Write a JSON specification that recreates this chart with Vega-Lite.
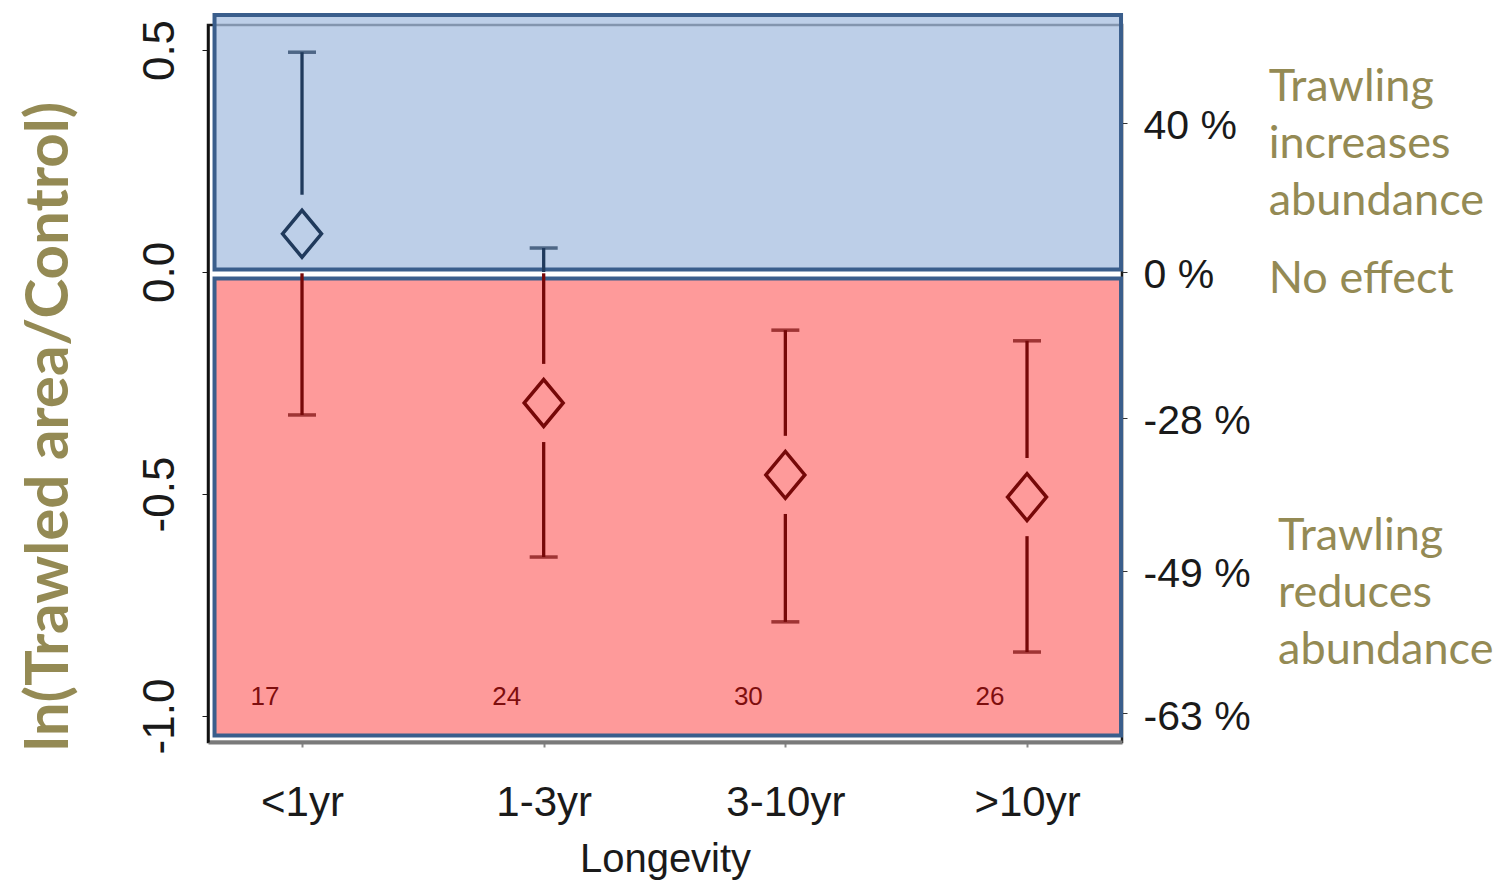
{
  "$schema": "https://vega.github.io/schema/vega-lite/v6.json",
  "width": 914,
  "height": 717,
  "autosize": {"type": "none"},
  "padding": {"left": 208, "top": 25, "right": 373, "bottom": 146},
  "background": "white",
  "view": {"stroke": "#1a1a1a", "strokeWidth": 2.5},
  "config": {"axis": {"grid": false}},
  "datasets": {
    "effects": [
      {"longevity": "<1yr", "pos": 1, "est": 0.086, "lo": -0.322, "hi": 0.495, "n": 17},
      {"longevity": "1-3yr", "pos": 2, "est": -0.295, "lo": -0.642, "hi": 0.054, "n": 24},
      {"longevity": "3-10yr", "pos": 3, "est": -0.457, "lo": -0.788, "hi": -0.131, "n": 30},
      {"longevity": ">10yr", "pos": 4, "est": -0.507, "lo": -0.856, "hi": -0.155, "n": 26}
    ],
    "segments": [
      {"pos": 1, "from": 0.495, "to": 0.174, "side": "above"},
      {"pos": 1, "from": -0.003, "to": -0.322, "side": "below"},
      {"pos": 2, "from": 0.054, "to": 0.0, "side": "above"},
      {"pos": 2, "from": -0.003, "to": -0.207, "side": "below"},
      {"pos": 2, "from": -0.383, "to": -0.642, "side": "below"},
      {"pos": 3, "from": -0.131, "to": -0.369, "side": "below"},
      {"pos": 3, "from": -0.545, "to": -0.788, "side": "below"},
      {"pos": 4, "from": -0.155, "to": -0.419, "side": "below"},
      {"pos": 4, "from": -0.595, "to": -0.856, "side": "below"}
    ],
    "zones": [
      {"zone": "increase", "upper": 0.579, "lower": 0.0056},
      {"zone": "reduce", "upper": -0.0146, "lower": -1.044}
    ],
    "single": [{}]
  },
  "layer": [
    {
      "data": {"name": "zones"},
      "mark": {"type": "rect", "fillOpacity": 0.75, "stroke": "#3a5e8c", "strokeWidth": 4, "strokeOpacity": 1},
      "encoding": {
        "x": {"datum": 0.638, "type": "quantitative", "scale": {"domain": [0.611, 4.393], "nice": false, "zero": false}, "axis": null},
        "x2": {"datum": 4.389},
        "y": {"field": "upper", "type": "quantitative", "axis": null, "scale": {"domain": [-1.0586, 0.5563], "nice": false, "zero": false}},
        "y2": {"field": "lower"},
        "fill": {"field": "zone", "type": "nominal", "scale": {"domain": ["increase", "reduce"], "range": ["#a7bfe0", "#fe7878"]}, "legend": null}
      }
    },
    {
      "data": {"name": "segments"},
      "mark": {"type": "rule", "strokeWidth": 3.3},
      "encoding": {
        "x": {"field": "pos", "type": "quantitative", "axis": null},
        "y": {"field": "from", "type": "quantitative", "axis": null},
        "y2": {"field": "to"},
        "color": {"field": "side", "type": "nominal", "scale": {"domain": ["above", "below"], "range": ["#203a5c", "#760808"]}, "legend": null}
      }
    },
    {
      "data": {"name": "effects"},
      "transform": [{"fold": ["lo", "hi"], "as": ["bound", "value"]}],
      "mark": {"type": "tick", "orient": "horizontal", "size": 28, "thickness": 3.5},
      "encoding": {
        "x": {"field": "pos", "type": "quantitative", "axis": null},
        "y": {"field": "value", "type": "quantitative", "axis": null},
        "color": {"condition": {"test": "datum.value > 0", "value": "#203a5c"}, "value": "#760808"}
      }
    },
    {
      "data": {"name": "effects"},
      "mark": {"type": "point", "shape": "M-0.83,0L0,-1L0.83,0L0,1Z", "size": 2200, "filled": false, "strokeWidth": 3.5, "opacity": 1},
      "encoding": {
        "x": {
          "field": "pos", "type": "quantitative",
          "title": "Longevity",
          "axis": {
            "values": [1, 2, 3, 4],
            "labelExpr": "datum.value == 1 ? '<1yr' : datum.value == 2 ? '1-3yr' : datum.value == 3 ? '3-10yr' : '>10yr'",
            "labelFont": "Liberation Sans",
            "labelFontSize": 42,
            "labelColor": "#1a1a1a",
            "labelPadding": 35,
            "tickSize": 5,
            "tickColor": "#888888",
            "tickWidth": 2,
            "domainColor": "#7a7a7a",
            "domainWidth": 4,
            "titleFont": "Liberation Sans",
            "titleFontSize": 40,
            "titleFontWeight": "normal",
            "titleColor": "#1a1a1a",
            "titlePadding": 16
          }
        },
        "y": {
          "field": "est", "type": "quantitative",
          "title": "ln(Trawled area/Control)",
          "axis": {
            "values": [-1, -0.5, 0, 0.5],
            "labelExpr": "datum.value > 0.25 ? '0.5' : datum.value > -0.25 ? '0.0' : datum.value > -0.75 ? '-0.5' : '-1.0'",
            "labelAngle": -90,
            "labelAlign": "center",
            "labelBaseline": "alphabetic",
            "labelFont": "Liberation Sans",
            "labelFontSize": 44,
            "labelColor": "#1a1a1a",
            "labelPadding": 29,
            "tickSize": 6,
            "tickColor": "#1a1a1a",
            "domainColor": "#111111",
            "domainWidth": 2.5,
            "titleFont": "Lato",
            "titleFontSize": 60,
            "titleFontWeight": "bold",
            "titleColor": "#948a54",
            "titleAngle": -90,
            "titleAlign": "center",
            "titleBaseline": "alphabetic",
            "titleX": -141,
            "titleY": 401
          }
        },
        "color": {"condition": {"test": "datum.est > 0", "value": "#203a5c"}, "value": "#760808"}
      }
    },
    {
      "data": {"name": "effects"},
      "mark": {"type": "text", "font": "Liberation Sans", "fontSize": 26, "color": "#7e0e0e", "align": "center", "baseline": "middle", "dx": -37},
      "encoding": {
        "x": {"field": "pos", "type": "quantitative", "axis": null},
        "y": {"datum": -0.957, "type": "quantitative", "axis": null},
        "text": {"field": "n", "type": "quantitative"}
      }
    },
    {
      "data": {"name": "effects"},
      "mark": {"type": "point", "opacity": 0},
      "encoding": {
        "x": {"field": "pos", "type": "quantitative", "axis": null},
        "y": {
          "field": "est", "type": "quantitative",
          "axis": {
            "orient": "right",
            "title": null,
            "values": [0.3365, 0, -0.3285, -0.6733, -0.9943],
            "labelExpr": "datum.value > 0.2 ? '40 %' : datum.value > -0.1 ? '0 %' : datum.value > -0.5 ? '-28 %' : datum.value > -0.8 ? '-49 %' : '-63 %'",
            "labelFont": "Liberation Sans",
            "labelFontSize": 41,
            "labelColor": "#1a1a1a",
            "labelPadding": 16,
            "labelOffset": 4,
            "labelBaseline": "middle",
            "tickSize": 5,
            "tickColor": "#333333",
            "domain": false
          }
        }
      }
    },
    {
      "data": {"name": "single"},
      "mark": {"type": "text", "font": "Lato", "fontSize": 45, "color": "#948a54", "align": "left", "baseline": "middle", "lineHeight": 57},
      "encoding": {
        "x": {"datum": 5.0, "type": "quantitative", "axis": null},
        "y": {"datum": 0.4167, "type": "quantitative", "axis": null},
        "text": {"value": ["Trawling", "increases", "abundance"]}
      }
    },
    {
      "data": {"name": "single"},
      "mark": {"type": "text", "font": "Lato", "fontSize": 45, "color": "#948a54", "align": "left", "baseline": "middle"},
      "encoding": {
        "x": {"datum": 5.0, "type": "quantitative", "axis": null},
        "y": {"datum": -0.016, "type": "quantitative", "axis": null},
        "text": {"value": "No effect"}
      }
    },
    {
      "data": {"name": "single"},
      "mark": {"type": "text", "font": "Lato", "fontSize": 45, "color": "#948a54", "align": "left", "baseline": "middle", "lineHeight": 57},
      "encoding": {
        "x": {"datum": 5.039, "type": "quantitative", "axis": null},
        "y": {"datum": -0.5946, "type": "quantitative", "axis": null},
        "text": {"value": ["Trawling", "reduces", "abundance"]}
      }
    }
  ],
  "resolve": {"axis": {"x": "independent", "y": "independent"}}
}
